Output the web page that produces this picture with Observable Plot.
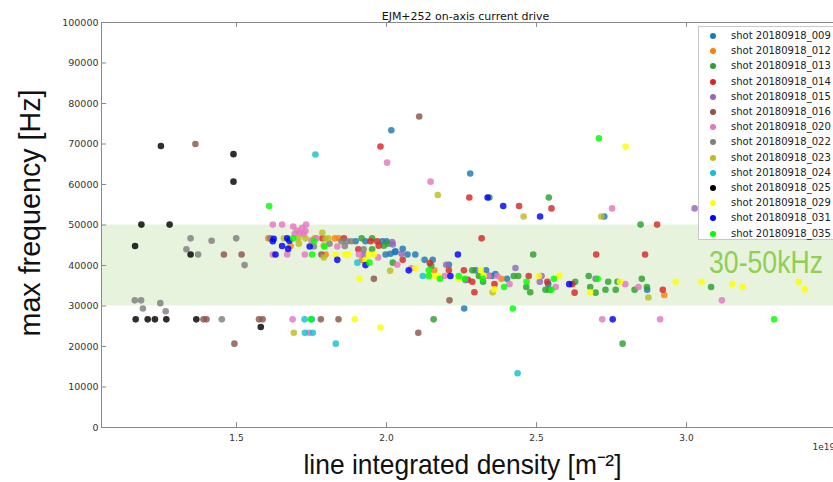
<!DOCTYPE html>
<html>
<head>
<meta charset="utf-8">
<script src="https://cdn.jsdelivr.net/npm/d3@7"></script>
<script src="https://cdn.jsdelivr.net/npm/@observablehq/plot@0.6"></script>
<style>
  html, body { margin: 0; padding: 0; background: #fff; }
  #wrap { position: relative; width: 833px; height: 482px; overflow: hidden; }
  #legend { position: absolute; left: 698px; top: 26px; width: 150px; height: 214px;
    background: #fff; border: 1px solid #c8c8c8; box-sizing: border-box;
    font-family: "DejaVu Sans", sans-serif; font-size: 10px; color: #222; }
  .row { position: absolute; left: 0; height: 14px; line-height: 14px; white-space: nowrap; }
  .dot { position: absolute; left: 11px; top: 4px; width: 6px; height: 6px; border-radius: 50%; }
  .lab { position: absolute; left: 32px; top: 0; }
</style>
</head>
<body>
<div id="wrap"><div id="legend"></div></div>
<script>
// ---- data (x in units of 1e19 m^-2, y in Hz) ----
const seriesNames = ["shot 20180918_009","shot 20180918_012","shot 20180918_013","shot 20180918_014",
  "shot 20180918_015","shot 20180918_016","shot 20180918_020","shot 20180918_022","shot 20180918_023",
  "shot 20180918_024","shot 20180918_025","shot 20180918_029","shot 20180918_031","shot 20180918_035"];
const seriesColors = ["#1f77b4","#ff7f0e","#2ca02c","#d62728","#9467bd","#8c564b","#e377c2","#7f7f7f",
  "#bcbd22","#17becf","#000000","#ffff00","#0000ff","#00ff00"];

const s009 = [[2.016,73400],[2.279,62700],[2.259,29400],[1.897,46000],[1.930,46000],[1.986,46000],[2.000,46000],
  [1.997,42700],[2.013,42900],[2.028,43300],[2.030,43500],[2.054,44100],[2.070,42700],[2.096,42700],[2.127,41400],
  [2.154,41400],[2.208,40200],[2.297,38800],[2.332,38800],[2.352,37400],[2.363,37900],[2.402,36700],[2.539,35400],
  [2.869,34000],[2.726,52100]];
const s012 = [[1.606,46700],[1.680,44800],[1.761,46700],[1.828,46700],[1.841,46700],[1.797,42700],[1.919,41400],
  [2.159,38800],[2.383,36700],[2.926,32700]];
const s013 = [[1.917,46700],[1.952,46700],[1.991,44900],[2.006,45400],[1.952,44000],[2.021,40700],[2.149,40000],
  [2.286,38800],[2.308,37400],[2.322,36000],[2.424,37400],[2.439,37400],[2.466,34700],[2.479,33400],[2.489,42700],
  [2.530,34000],[2.543,34000],[2.629,36000],[2.674,37400],[2.679,34700],[2.697,33300],[2.730,34000],[2.739,36000],
  [2.764,34000],[2.770,36000],[2.827,34000],[2.851,36700],[2.868,34700],[3.082,34700],[2.343,56800],[2.541,56800],
  [2.847,50100],[2.157,26700],[2.787,20700]];
const s014 = [[1.980,69400],[2.276,56800],[2.442,54700],[2.550,54100],[2.699,42700],[2.862,42700],[2.902,50100],
  [2.317,46700],[1.786,46700],[1.858,46700],[1.947,46000],[1.969,46000],[1.974,44900],[1.906,44000],[2.054,41400],
  [2.144,40600],[2.208,38800],[2.258,38800],[2.272,36500],[2.286,36000],[2.293,33400],[2.360,35400],[2.474,37400],
  [2.536,36000],[2.619,35400],[2.627,33300],[2.921,34000]];
const s015 = [[2.019,45800],[2.021,45200],[1.924,42700],[2.050,42900],[2.199,40200],[2.263,36400],[2.341,37500],
  [2.430,39400],[2.517,37400],[2.511,36000],[2.697,36700],[3.027,54100]];
const s016 = [[1.363,70000],[2.109,76800],[1.458,42700],[1.517,42700],[1.390,26700],[1.400,26700],[1.575,26700],
  [1.587,26700],[1.781,26700],[1.840,26700],[1.493,20700],[1.783,42700],[1.958,36700],[2.106,23400],[2.210,31400]];
const s020 = [[2.002,65400],[2.147,60700],[2.752,54100],[1.621,50100],[1.652,50100],[1.689,49600],[1.702,48600],
  [1.719,49300],[1.732,50100],[1.694,47800],[1.730,48500],[1.712,48000],[1.724,47700],[1.750,46200],[1.767,46700],
  [1.836,44700],[1.621,42700],[1.669,42700],[1.728,42700],[1.908,42700],[1.972,42000],[2.036,40200],[2.083,39300],
  [2.194,37400],[2.339,37400],[2.369,37400],[2.410,35400],[2.564,34700],[2.796,35400],[2.840,34700],[3.118,31400],
  [1.687,26700],[1.742,23400],[2.719,26700],[2.912,26700]];
const s022 = [[1.347,46700],[1.417,46100],[1.499,46700],[1.333,44000],[1.372,42700],[1.527,40100],[1.161,31400],
  [1.182,31400],[1.188,29400],[1.246,30700],[1.264,28700],[1.451,26700],[1.613,46700],[1.758,44700],[1.810,45400],
  [1.850,46000],[1.869,46000],[1.883,46000],[1.861,44800],[1.924,44000]];
const s023 = [[2.171,57400],[2.457,52100],[2.716,52100],[1.658,46700],[1.706,46700],[1.730,46700],[1.797,46600],
  [1.806,46700],[1.786,48100],[1.708,45400],[1.791,44900],[1.791,42000],[2.012,38700],[2.354,33400],[2.873,32100],
  [1.691,23400]];
const s024 = [[1.763,67400],[1.727,26700],[1.751,26700],[1.728,23400],[1.754,23400],[1.831,20700],[1.903,40700],
  [2.121,37400],[2.437,13400]];
const s025 = [[1.248,69500],[1.490,67500],[1.490,60700],[1.183,50100],[1.277,50100],[1.162,44800],[1.347,42700],
  [1.164,26700],[1.204,26700],[1.228,26700],[1.266,26700],[1.366,26700],[1.581,24800]];
const s029 = [[2.797,69400],[1.830,42700],[1.863,42700],[1.872,42700],[1.941,42700],[1.958,42700],[1.930,41400],
  [1.910,36700],[1.894,26700],[1.980,24700],[2.097,39400],[2.161,37400],[2.174,37400],[2.239,36700],[2.314,38800],
  [2.324,37500],[2.359,34100],[2.508,37400],[2.576,37500],[2.679,33400],[2.778,36000],[2.964,36000],[3.050,36000],
  [3.153,35400],[3.188,34700],[3.374,36000],[3.394,34100]];
const s031 = [[1.624,46600],[1.621,46000],[1.669,46700],[1.676,46100],[1.652,44800],[1.672,44100],[1.630,42700],
  [1.744,44700],[1.836,41400],[1.930,40100],[2.074,38800],[2.213,37400],[2.238,42700],[2.337,56800],[2.389,54700],
  [2.512,52100],[2.609,35400],[2.754,26700]];
const s035 = [[1.609,54700],[1.689,46700],[1.758,46000],[1.793,44700],[1.752,42700],[1.748,26700],[1.943,40700],
  [2.141,37400],[2.141,38800],[2.178,36700],[2.241,37400],[2.261,36700],[2.321,36700],[2.392,34700],[2.467,36000],
  [2.558,36700],[2.550,34000],[2.704,36700],[2.708,71400],[2.421,29400],[3.292,26700]];

const xTicks = [1.5, 2.0, 2.5, 3.0];
const yTicks = [0,10000,20000,30000,40000,50000,60000,70000,80000,90000,100000];
const band = [{y1: 30000, y2: 50000}];
const bandLabel = "30-50kHz";
const title = "EJM+252 on-axis current drive";
const xLabel = "line integrated density [m\u207B\u00B2]";
const yLabel = "max frequency [Hz]";

const allSeries = [s009,s012,s013,s014,s015,s016,s020,s022,s023,s024,s025,s029,s031,s035];
const points = allSeries.flatMap((s, i) => s.map(([x, y]) => ({x, y, series: seriesNames[i]})));

const xDomain = [1.05, 3.49];
const narrow = "'Liberation Sans', Arial, sans-serif";
const frameColor = "#8a8a8a";

const chart = Plot.plot({
  width: 833, height: 482,
  marginLeft: 101, marginRight: 0, marginTop: 22, marginBottom: 55,
  style: {fontFamily: "DejaVu Sans, sans-serif", background: "white", color: "#333"},
  x: {domain: xDomain},
  y: {domain: [0, 100000]},
  color: {domain: seriesNames, range: seriesColors},
  marks: [
    Plot.rect(band, {y1: "y1", y2: "y2", fill: "#e8f3de"}),
    Plot.text([bandLabel], {x: () => 3.455, y: () => 40800, textAnchor: "end", fontSize: 32,
      fontFamily: narrow, fill: "#8fcf52"}),
    Plot.dot(points, {x: "x", y: "y", fill: "series", r: 3.3, fillOpacity: 0.82}),
    Plot.ruleY([0, 100000], {stroke: frameColor}),
    Plot.ruleX([xDomain[0]], {y1: 0, y2: 100000, stroke: frameColor}),
    Plot.ruleX(xTicks, {y1: 0, y2: 1200, stroke: frameColor}),
    Plot.ruleX(xTicks, {y1: 98800, y2: 100000, stroke: frameColor}),
    Plot.ruleY(yTicks, {x1: xDomain[0], x2: xDomain[0] + 0.017, stroke: frameColor}),
    Plot.axisX({ticks: xTicks, tickSize: 0, tickPadding: 7, fontSize: 9, tickFormat: d => d.toFixed(1), label: null}),
    Plot.axisY({ticks: yTicks, tickSize: 0, tickPadding: 3, fontSize: 9.5, tickFormat: d => String(d), label: null}),
    Plot.text([xLabel], {frameAnchor: "bottom", dx: -5, dy: 46, fontSize: 28, fontFamily: narrow, fill: "#111"}),
    Plot.text([yLabel], {frameAnchor: "left", textAnchor: "middle", rotate: -90, dx: -71, dy: -12,
      fontSize: 30, fontFamily: narrow, fill: "#111"}),
    Plot.text(["1e19"], {frameAnchor: "bottom-right", dx: -21, dy: 22, textAnchor: "start", fontSize: 9}),
    Plot.text([title], {frameAnchor: "top", dx: -2, dy: -10, fontSize: 11, fill: "#111"})
  ]
});
document.getElementById("wrap").prepend(chart);

// condense the large labels to the narrow widths seen in the reference
const fitWidths = {[xLabel]: 318, [yLabel]: 247, [bandLabel]: 114};
d3.select(chart).selectAll("text").each(function () {
  const w = fitWidths[this.textContent];
  if (w) { this.setAttribute("textLength", w); this.setAttribute("lengthAdjust", "spacingAndGlyphs"); }
});

const legend = document.getElementById("legend");
seriesNames.forEach((name, i) => {
  const row = document.createElement("div");
  row.className = "row";
  row.style.top = (2 + i * 15.2) + "px";
  row.innerHTML = `<span class="dot" style="background:${seriesColors[i]}"></span><span class="lab">${name}</span>`;
  legend.appendChild(row);
});
</script>
</body>
</html>
